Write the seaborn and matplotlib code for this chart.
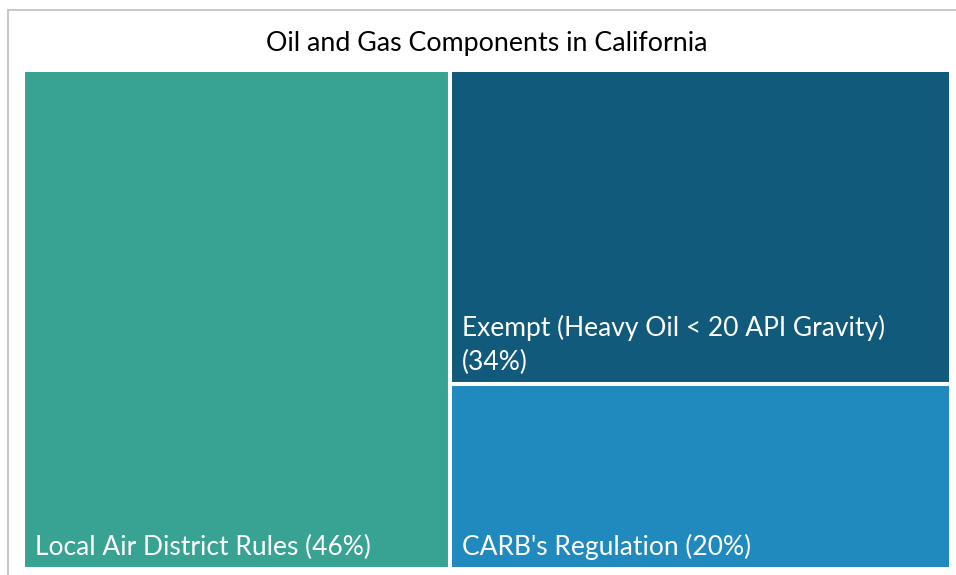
import matplotlib.pyplot as plt
import seaborn as sns
from matplotlib.patches import Rectangle

# data
categories = ["Local Air District Rules", "Exempt (Heavy Oil < 20 API Gravity)", "CARB's Regulation"]
shares = [46, 34, 20]
label_text = [
    "Local Air District Rules (46%)",
    "Exempt (Heavy Oil < 20 API Gravity)\n(34%)",
    "CARB's Regulation (20%)",
]
colors = ["#38A392", "#115A7C", "#2089BD"]

sns.set_theme(style="white")
plt.rcParams["font.family"] = ["Lato", "DejaVu Sans"]

fig = plt.figure(figsize=(9.56, 5.75), dpi=100)
ax = fig.add_axes([23 / 956, 1 - 569 / 575, 928 / 956, 499 / 575])

# simple slice-and-dice layout: first item takes a column, the rest stack in the remaining column
total = sum(shares)
W, H = 1.0, 1.0
w0 = shares[0] / total * W
rects = [(0, 0, w0, H)]
rest = sum(shares[1:])
y_top = H
for s in shares[1:]:
    h = s / rest * H
    rects.append((w0, y_top - h, W - w0, h))
    y_top -= h

pad_x = 12 / 928
pad_y = 9 / 499
for (x, y, w, h), c, lab in zip(rects, colors, label_text):
    ax.add_patch(Rectangle((x, y), w, h, facecolor=c, edgecolor="white", linewidth=2.9))
    ax.text(x + pad_x, y + pad_y, lab, color="white", fontsize=19,
            ha="left", va="bottom", linespacing=1.45)

ax.set_xlim(0, W)
ax.set_ylim(0, H)
ax.axis("off")

fig.text(487 / 956, 1 - 44 / 575, "Oil and Gas Components in California",
         ha="center", va="center", fontsize=19.3, color="black")

# outer chart frame
fig.patches.append(Rectangle((8 / 956, -0.1), 1.2, 1 - 10 / 575 + 0.1, transform=fig.transFigure,
                             facecolor="none", edgecolor="#BFBFBF", linewidth=1.2))

fig.savefig("out.png", dpi=100)
